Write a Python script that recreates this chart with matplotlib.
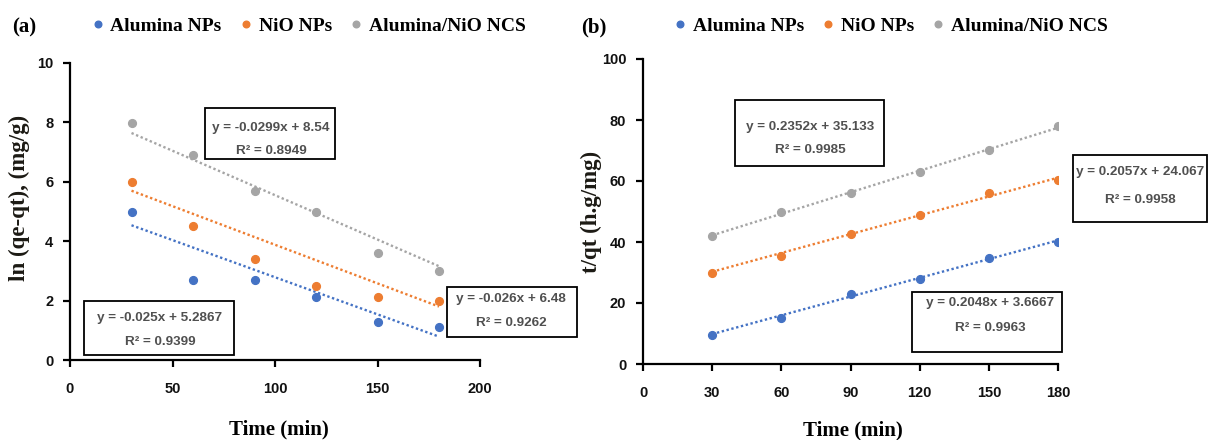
import matplotlib
matplotlib.use("Agg")
import matplotlib.pyplot as plt
from matplotlib.patches import Rectangle
from matplotlib.font_manager import FontProperties
import numpy as np

# ---- data -------------------------------------------------------------
time_min = [30, 60, 90, 120, 150, 180]
series_names = ["Alumina NPs", "NiO NPs", "Alumina/NiO NCS"]

# pseudo-first-order: ln(qe - qt)
ln_alumina = [4.97, 2.69, 2.69, 2.11, 1.29, 1.12]
ln_nio = [6.00, 4.51, 3.39, 2.50, 2.11, 1.99]
ln_ncs = [7.97, 6.90, 5.70, 4.97, 3.59, 3.01]

# pseudo-second-order: t/qt
tq_alumina = [9.6, 15.0, 22.8, 27.8, 34.8, 39.9]
tq_nio = [29.7, 35.5, 42.6, 48.9, 56.0, 60.2]
tq_ncs = [42.0, 49.7, 56.0, 63.0, 70.2, 78.0]

# linear trend lines (slope, intercept, R^2) per series
slope_a = [-0.025, -0.026, -0.0299]
icpt_a = [5.2867, 6.48, 8.54]
r2_a = [0.9399, 0.9262, 0.8949]

slope_b = [0.2048, 0.2057, 0.2352]
icpt_b = [3.6667, 24.067, 35.133]
r2_b = [0.9963, 0.9958, 0.9985]

colors = ["#4472C4", "#ED7D31", "#A5A5A5"]

# ---- figure -----------------------------------------------------------
W, H = 1209, 440
fig = plt.figure(figsize=(W / 100, H / 100), dpi=100)


def fx(px):
    return px / W


def fy(py):
    return 1 - py / H


ax_a = fig.add_axes([fx(70), fy(360), fx(480) - fx(70), fy(63) - fy(360)])
ax_b = fig.add_axes([fx(643), fy(364), fx(1058) - fx(643), fy(59) - fy(364)])

serif_bold = dict(family="Liberation Serif", weight="bold")
tick_font = dict(family="Liberation Sans", weight="bold", size=10.5)
eq_font = dict(family="Liberation Sans", weight="bold", size=9.7, color="#505050")


def eq_text(m, b):
    sign = "+" if b >= 0 else "-"
    return f"y = {m}x {sign} {abs(b)}"


def draw_panel(ax, ys, slopes, icpts):
    x = np.array(time_min, dtype=float)
    xs = np.array([x.min(), x.max()])
    for vals, m, b, c, name in zip(ys, slopes, icpts, colors, series_names):
        ax.plot(xs, m * xs + b, color=c, lw=1.7, ls=(0, (1, 1.1)), zorder=2)
        ax.plot(x, vals, "o", ms=5.6, color=c, ls="none", label=name, zorder=3)
    for s in ("top", "right"):
        ax.spines[s].set_visible(False)
    for s in ("left", "bottom"):
        ax.spines[s].set_linewidth(1.6)
        ax.spines[s].set_color("black")
    ax.tick_params(axis="both", direction="out", length=5, width=1.6, color="black")
    ax.tick_params(axis="x", pad=11)
    ax.tick_params(axis="y", pad=7)


draw_panel(ax_a, [ln_alumina, ln_nio, ln_ncs], slope_a, icpt_a)
draw_panel(ax_b, [tq_alumina, tq_nio, tq_ncs], slope_b, icpt_b)

ax_a.set_xlim(0, 200)
ax_a.set_ylim(0, 10)
ax_a.set_xticks(np.arange(0, 201, 50))
ax_a.set_yticks(np.arange(0, 11, 2))

ax_b.set_xlim(0, 180)
ax_b.set_ylim(0, 100)
ax_b.set_xticks(np.arange(0, 181, 30))
ax_b.set_yticks(np.arange(0, 101, 20))

for ax in (ax_a, ax_b):
    for lab in ax.get_xticklabels() + ax.get_yticklabels():
        lab.set_fontfamily(tick_font["family"])
        lab.set_fontweight(tick_font["weight"])
        lab.set_fontsize(tick_font["size"])
        lab.set_color("#111111")

# axis titles
ax_a.set_xlabel("Time (min)", fontsize=15, **serif_bold)
ax_a.xaxis.set_label_coords((279 - 70) / 410, (360 - 429) / 297)
ax_a.xaxis.label.set_va("center")
ax_a.set_ylabel("ln (qe-qt), (mg/g)", fontsize=16.5, color="#1c1a14", **serif_bold)
ax_a.yaxis.set_label_coords((19 - 70) / 410, (360 - 198) / 297)
ax_a.yaxis.label.set_va("center")

ax_b.set_xlabel("Time (min)", fontsize=15, **serif_bold)
ax_b.xaxis.set_label_coords((853 - 643) / 415, (364 - 430) / 305)
ax_b.xaxis.label.set_va("center")
ax_b.set_ylabel("t/qt (h.g/mg)", fontsize=16.5, color="#1c1a14", **serif_bold)
ax_b.yaxis.set_label_coords((591 - 643) / 415, (364 - 212) / 305)
ax_b.yaxis.label.set_va("center")

# panel tags
fig.text(fx(24), fy(27), "(a)", ha="center", va="center", fontsize=15, **serif_bold)
fig.text(fx(594), fy(27), "(b)", ha="center", va="center", fontsize=15, **serif_bold)

# legends
leg_prop = FontProperties(family="Liberation Serif", weight="bold", size=14)
for ax, left in ((ax_a, 93), (ax_b, 675)):
    ax.legend(loc="center left", bbox_to_anchor=(fx(left), fy(26)),
              bbox_transform=fig.transFigure, ncol=3, frameon=False,
              prop=leg_prop, handlelength=0.5, handletextpad=0.4,
              columnspacing=1.0, borderpad=0, borderaxespad=0,
              markerscale=0.85)


# trend-line equation boxes: (x0, y0, x1, y1, centre x, line1 y, line2 y)
def eq_box(x0, y0, x1, y1, cx, l1, l2, m, b, r2):
    fig.patches.append(Rectangle((fx(x0), fy(y1)), fx(x1) - fx(x0), fy(y0) - fy(y1),
                                 transform=fig.transFigure, facecolor="white",
                                 edgecolor="black", lw=1.3, zorder=5))
    fig.text(fx(cx), fy(l1), eq_text(m, b), ha="center", va="center", zorder=6, **eq_font)
    fig.text(fx(cx), fy(l2), f"R² = {r2}", ha="center", va="center", zorder=6, **eq_font)


eq_box(84, 301, 234, 355, 160, 318, 342, slope_a[0], icpt_a[0], r2_a[0])
eq_box(447, 287, 577, 337, 511, 299, 323, slope_a[1], icpt_a[1], r2_a[1])
eq_box(205, 108, 335, 159, 271, 128, 151, slope_a[2], icpt_a[2], r2_a[2])

eq_box(912, 292, 1062, 352, 990, 303, 328, slope_b[0], icpt_b[0], r2_b[0])
eq_box(1073, 155, 1207, 222, 1140, 172, 200, slope_b[1], icpt_b[1], r2_b[1])
eq_box(735, 100, 884, 166, 810, 127, 150, slope_b[2], icpt_b[2], r2_b[2])

fig.savefig("out.png", dpi=100, facecolor="white")
